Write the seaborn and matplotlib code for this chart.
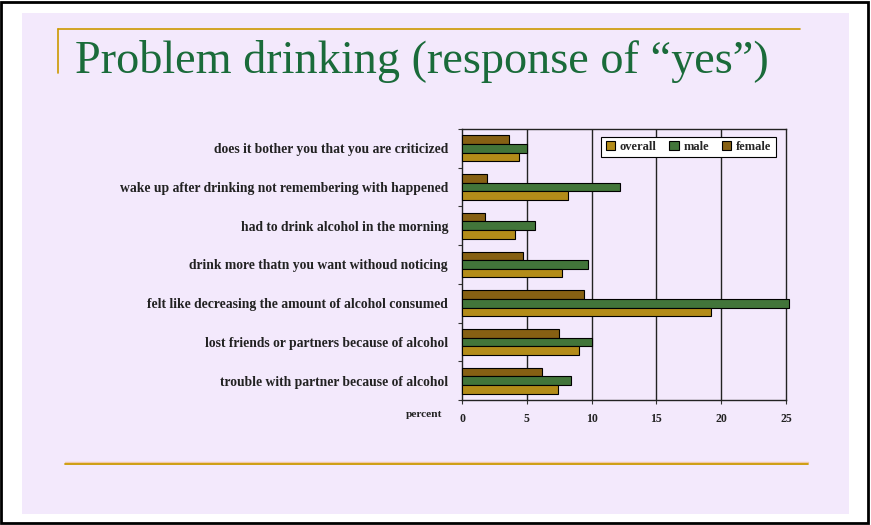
import matplotlib
matplotlib.use("Agg")
import matplotlib.pyplot as plt
import seaborn as sns
import pandas as pd
from matplotlib.patches import Rectangle
from matplotlib.lines import Line2D

categories = [
    "does it bother you that you are criticized",
    "wake up after drinking not remembering with happened",
    "had to drink alcohol in the morning",
    "drink more thatn you want withoud noticing",
    "felt like decreasing the amount of alcohol consumed",
    "lost friends or partners because of alcohol",
    "trouble with partner because of alcohol",
]
overall = [4.4, 8.2, 4.1, 7.7, 19.2, 9.0, 7.4]
male = [5.0, 12.2, 5.6, 9.7, 25.2, 10.0, 8.4]
female = [3.6, 1.9, 1.8, 4.7, 9.4, 7.5, 6.2]
x_ticks = [0, 5, 10, 15, 20, 25]
title = "Problem drinking (response of \u201cyes\u201d)"

W, H = 871, 525
bg = "#F3E9FC"
gold = "#CC9900"
colors = {"overall": "#CC9900", "male": "#3B7F30", "female": "#996600"}

rows = []
for i, c in enumerate(categories):
    rows.append({"cat": c, "group": "female", "value": female[i]})
    rows.append({"cat": c, "group": "male", "value": male[i]})
    rows.append({"cat": c, "group": "overall", "value": overall[i]})
df = pd.DataFrame(rows)

sns.set_style("white")
plt.rcParams["font.family"] = ["Liberation Serif", "DejaVu Serif"]

fig = plt.figure(figsize=(W / 100, H / 100), dpi=100, facecolor="white")

def fx(px):
    return px / W

def fy(py):
    return 1 - py / H

# lavender slide panel
fig.patches.append(Rectangle((fx(22), fy(514)), fx(849) - fx(22), fy(13) - fy(514),
                             transform=fig.transFigure, facecolor=bg, edgecolor="none", zorder=-2))
# outer black frame
fig.patches.append(Rectangle((fx(1), fy(523)), fx(868) - fx(1), fy(2) - fy(523),
                             transform=fig.transFigure, facecolor="none", edgecolor="black",
                             lw=2, zorder=-1))
# decorative gold lines
fig.lines.append(Line2D([fx(58), fx(800)], [fy(29), fy(29)], transform=fig.transFigure,
                        color=gold, lw=1.2, zorder=-1))
fig.lines.append(Line2D([fx(58), fx(58)], [fy(29), fy(73)], transform=fig.transFigure,
                        color=gold, lw=1.2, zorder=-1))
fig.lines.append(Line2D([fx(65), fx(808)], [fy(462), fy(462)], transform=fig.transFigure,
                        color="#F2C9A8", lw=1.0, zorder=-1))
fig.lines.append(Line2D([fx(65), fx(808)], [fy(463.5), fy(463.5)], transform=fig.transFigure,
                        color=gold, lw=1.3, zorder=-1))

fig.text(fx(75), fy(73), title, fontsize=33.3, color="#1A6B3A", ha="left", va="baseline")

ax = fig.add_axes([fx(462), fy(400), fx(786) - fx(462), fy(129) - fy(400)])
ax.set_facecolor(bg)

sns.barplot(data=df, y="cat", x="value", hue="group", order=categories,
            hue_order=["female", "male", "overall"], palette=colors, orient="h",
            width=0.67, edgecolor="black", linewidth=0.8, ax=ax, legend=True, zorder=3)
for p in ax.patches:
    p.set_clip_on(False)

ax.set_xlim(0, 25)
ax.set_ylim(len(categories) - 0.5, -0.5)
ax.set_xticks(x_ticks)
ax.set_xticklabels([str(t) for t in x_ticks], fontweight="bold", fontsize=8.5, color="#222222")
for v in x_ticks[1:-1]:
    ax.axvline(v, color="#222222", lw=1, zorder=1)
ax.set_yticks(range(len(categories)))
ax.set_yticklabels(categories, fontweight="bold", fontsize=9.8, color="#222222")
ax.tick_params(axis="y", length=0, pad=10)
ax.set_yticks([i + 0.5 for i in range(-1, len(categories))], minor=True)
ax.tick_params(axis="y", which="minor", length=3, width=0.8, color="#333333", left=True)
ax.tick_params(axis="x", length=3, width=0.8, pad=6, color="#333333", bottom=True)
ax.set_ylabel("")
ax.set_xlabel("percent", fontweight="bold", fontsize=8.2, color="#222222")
ax.xaxis.set_label_coords(-0.116, -0.052)
ax.xaxis.label.set_va("center")
for s in ax.spines.values():
    s.set_color("#222222")
    s.set_linewidth(1)

handles, labels = ax.get_legend_handles_labels()
hmap = dict(zip(labels, handles))
order = ["overall", "male", "female"]
leg = ax.legend([hmap[k] for k in order], order, loc="upper right",
                bbox_to_anchor=(0.969, 0.972), ncol=3, frameon=True, fancybox=False,
                edgecolor="black", framealpha=1, facecolor="white",
                prop={"weight": "bold", "size": 9, "family": "Liberation Serif"},
                handlelength=0.75, handleheight=0.75, handletextpad=0.4,
                columnspacing=1.0, borderpad=0.35, borderaxespad=0)
leg.get_frame().set_linewidth(0.8)
leg.set_zorder(5)

fig.savefig("out.png", dpi=100, facecolor="white")
